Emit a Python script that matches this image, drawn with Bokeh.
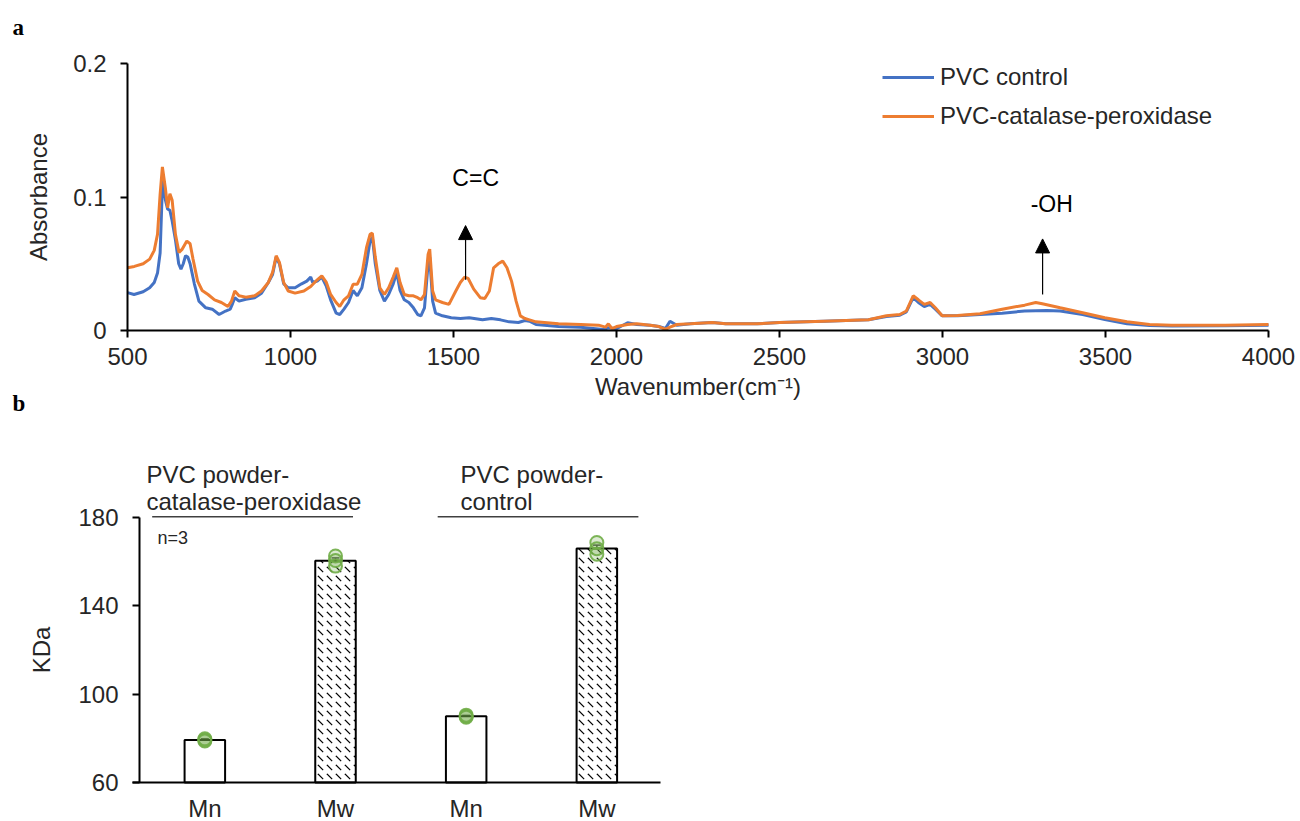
from bokeh.plotting import figure
from bokeh.layouts import column
from bokeh.models import (FixedTicker, Label, Arrow, NormalHead, Whisker, TeeHead,
                          ColumnDataSource, Legend)
from bokeh.embed import file_html
from bokeh.resources import INLINE

# ---------------- data: panel a (FTIR spectra) ----------------
wn_control = [500, 520, 548, 568, 582, 592, 600, 608, 616, 623, 630, 637, 647, 657, 664, 671, 678, 685,
              692, 705, 719, 740, 760, 781, 801, 815, 822, 829, 842, 863, 890, 911, 932, 945, 956, 966,
              979, 993, 1014, 1034, 1050, 1062, 1068, 1082, 1096, 1110, 1123, 1140, 1151, 1164, 1178,
              1192, 1205, 1219, 1233, 1244, 1251, 1260, 1274, 1288, 1301, 1315, 1326, 1336, 1349, 1363,
              1377, 1390, 1400, 1411, 1422, 1427, 1436, 1445, 1466, 1493, 1521, 1548, 1589, 1616, 1644,
              1671, 1699, 1719, 1733, 1753, 1822, 1890, 1959, 1975, 2000, 2034, 2062, 2103, 2130, 2150,
              2164, 2185, 2226, 2294, 2335, 2431, 2500, 2636, 2773, 2828, 2869, 2889, 2910, 2926, 2944,
              2962, 2978, 2999, 3046, 3115, 3183, 3252, 3286, 3320, 3361, 3430, 3498, 3566, 3635, 3703,
              3867, 4000]
abs_control = [0.0284, 0.027, 0.029, 0.032, 0.036, 0.043, 0.058, 0.115, 0.098, 0.091, 0.090, 0.082,
               0.068, 0.050, 0.046, 0.050, 0.056, 0.055, 0.050, 0.035, 0.022, 0.017, 0.016, 0.012,
               0.0146, 0.016, 0.020, 0.0246, 0.022, 0.0234, 0.0246, 0.028, 0.036, 0.042, 0.055, 0.050,
               0.035, 0.032, 0.032, 0.035, 0.037, 0.040, 0.036, 0.037, 0.040, 0.033, 0.023, 0.013,
               0.012, 0.016, 0.021, 0.030, 0.026, 0.032, 0.050, 0.067, 0.070, 0.050, 0.030, 0.022,
               0.027, 0.035, 0.0435, 0.030, 0.023, 0.021, 0.017, 0.012, 0.011, 0.017, 0.050, 0.055,
               0.022, 0.013, 0.011, 0.0095, 0.009, 0.0095, 0.008, 0.009, 0.008, 0.0065, 0.006, 0.0075,
               0.007, 0.0045, 0.003, 0.0025, 0.0008, 0.002, 0.0013, 0.0058, 0.0045, 0.004, 0.003,
               0.0015, 0.007, 0.004, 0.005, 0.006, 0.005, 0.005, 0.006, 0.007, 0.008, 0.0105, 0.0115,
               0.014, 0.0246, 0.021, 0.018, 0.0196, 0.016, 0.011, 0.011, 0.012, 0.013, 0.0146, 0.0148,
               0.015, 0.0146, 0.012, 0.0083, 0.005, 0.0038, 0.0033, 0.0035, 0.004]

wn_treated = [500, 521, 548, 568, 582, 592, 600, 607, 616, 623, 630, 637, 647, 658, 668, 682, 692, 701,
              715, 729, 747, 767, 788, 808, 819, 829, 842, 863, 890, 911, 932, 945, 956, 966, 979, 993,
              1014, 1041, 1062, 1082, 1096, 1110, 1123, 1140, 1151, 1164, 1178, 1192, 1205, 1219, 1233,
              1244, 1251, 1260, 1274, 1288, 1301, 1315, 1326, 1336, 1349, 1363, 1377, 1390, 1400, 1411,
              1422, 1427, 1436, 1445, 1466, 1486, 1507, 1521, 1534, 1545, 1562, 1582, 1596, 1610, 1623,
              1637, 1651, 1664, 1678, 1692, 1705, 1719, 1733, 1753, 1822, 1890, 1945, 1966, 1975, 1986,
              2000, 2034, 2062, 2103, 2130, 2150, 2164, 2185, 2226, 2294, 2335, 2431, 2500, 2636, 2773,
              2828, 2869, 2889, 2910, 2926, 2944, 2962, 2978, 2999, 3046, 3115, 3183, 3252, 3286, 3306,
              3361, 3430, 3498, 3566, 3635, 3703, 3867, 4000]
abs_treated = [0.047, 0.048, 0.050, 0.0535, 0.060, 0.072, 0.102, 0.1226, 0.107, 0.092, 0.1025, 0.0975,
               0.072, 0.0585, 0.061, 0.067, 0.065, 0.0535, 0.037, 0.030, 0.027, 0.023, 0.021, 0.018,
               0.022, 0.0296, 0.026, 0.025, 0.026, 0.0296, 0.036, 0.0435, 0.056, 0.051, 0.036, 0.0296,
               0.028, 0.0296, 0.033, 0.038, 0.041, 0.036, 0.027, 0.021, 0.018, 0.023, 0.026, 0.0347,
               0.0347, 0.042, 0.062, 0.072, 0.073, 0.055, 0.032, 0.027, 0.032, 0.040, 0.047, 0.036,
               0.027, 0.026, 0.026, 0.0246, 0.023, 0.027, 0.057, 0.061, 0.0296, 0.023, 0.021, 0.0196,
               0.0296, 0.036, 0.040, 0.039, 0.031, 0.0246, 0.024, 0.0296, 0.047, 0.050, 0.052, 0.047,
               0.037, 0.022, 0.011, 0.009, 0.008, 0.0065, 0.005, 0.0045, 0.004, 0.0025, 0.005, 0.0015,
               0.003, 0.0045, 0.005, 0.004, 0.003, 0.0008, 0.0025, 0.0045, 0.005, 0.006, 0.005, 0.005,
               0.006, 0.007, 0.008, 0.011, 0.012, 0.0146, 0.026, 0.023, 0.0196, 0.021, 0.017, 0.011,
               0.0113, 0.0126, 0.016, 0.019, 0.021, 0.020, 0.017, 0.0133, 0.0095, 0.0065, 0.0045,
               0.004, 0.004, 0.0045]

series_names = ["PVC control", "PVC-catalase-peroxidase"]
x_ticks_a = [500, 1000, 1500, 2000, 2500, 3000, 3500, 4000]
y_ticks_a = [0, 0.1, 0.2]
y_tick_labels_a = ["0", "0.1", "0.2"]
band_labels = ["C=C", "-OH"]
band_wn = [1537, 3307]

# ---------------- data: panel b (molecular weight) ----------------
bar_labels = ["Mn", "Mw", "Mn", "Mw"]
bar_pos = [1, 2, 3, 4]
bar_means = [79.3, 160.4, 90.0, 166.0]
bar_err = [0.5, 1.3, 0.4, 1.5]
point_pos = [1, 1, 1, 2, 2, 2, 3, 3, 3, 4, 4, 4]
point_vals = [78.8, 79.3, 79.8, 158.0, 160.5, 162.6, 89.6, 90.0, 90.5, 163.4, 165.9, 168.7]
group_lines = [["PVC powder-", "catalase-peroxidase"], ["PVC powder-", "control"]]
y_ticks_b = [60, 100, 140, 180]

FONT = "Liberation Sans"
FS = "24px"
TXT = "#262626"
BLUE = "#4472C4"
ORANGE = "#ED7D31"
GREEN = "#70AD47"


def style_axes(p):
    for ax in [p.xaxis[0], p.yaxis[0]]:
        ax.axis_line_color = "black"
        ax.axis_line_width = 2
        ax.major_tick_line_color = "black"
        ax.major_tick_line_width = 2
        ax.major_tick_in = 0
        ax.major_tick_out = 7
        ax.minor_tick_line_color = None
        ax.major_label_text_font = FONT
        ax.major_label_text_font_size = FS
        ax.major_label_text_color = TXT
        ax.axis_label_text_font = FONT
        ax.axis_label_text_font_size = FS
        ax.axis_label_text_font_style = "normal"
        ax.axis_label_text_color = TXT
    p.xgrid.visible = False
    p.ygrid.visible = False
    p.outline_line_color = None
    p.background_fill_color = "white"
    p.border_fill_color = "white"


def text_label(p, x, y, text, size=FS, font=FONT, style="normal", color=TXT, align="left"):
    p.add_layout(Label(x=x, y=y, text=text, text_align=align, text_baseline="middle",
                       text_font=font, text_font_style=style, text_font_size=size,
                       text_color=color))


# ---------------- panel a ----------------
# the frame covers the whole canvas; axes are pinned with fixed_location
p1 = figure(width=1300, height=420, x_range=(110.4, 4098.1), y_range=(-0.0674, 0.2472),
            output_backend="svg", toolbar_location=None,
            min_border_left=0, min_border_right=0, min_border_top=0, min_border_bottom=0)
style_axes(p1)
p1.xaxis.fixed_location = 0
p1.xaxis.bounds = (500, 4000)
p1.yaxis.fixed_location = 500
p1.yaxis.bounds = (0, 0.2)
p1.xaxis.ticker = FixedTicker(ticks=x_ticks_a)
p1.yaxis.ticker = FixedTicker(ticks=y_ticks_a)
p1.yaxis.major_label_overrides = {t: l for t, l in zip(y_ticks_a, y_tick_labels_a)}
p1.xaxis.axis_label = "Wavenumber(cm\u207b\u00b9)"
p1.yaxis.axis_label = "Absorbance"
p1.xaxis.major_label_standoff = 10
p1.xaxis.axis_label_standoff = 5
p1.yaxis.major_label_standoff = 14
p1.yaxis.axis_label_standoff = 18

r_c = p1.line(wn_control, abs_control, line_color=BLUE, line_width=3)
r_t = p1.line(wn_treated, abs_treated, line_color=ORANGE, line_width=3)

legend = Legend(items=[(series_names[0], [r_c]), (series_names[1], [r_t])],
                location=(882, 290), glyph_width=52, glyph_height=26, label_height=26,
                spacing=11, padding=0, margin=0, label_standoff=6,
                label_text_font=FONT, label_text_font_size=FS, label_text_color=TXT,
                border_line_color=None, background_fill_alpha=0)
p1.add_layout(legend)

arrow_bottoms = [0.038, 0.027]
arrow_tops = [0.0786, 0.0686]
label_y = [0.114, 0.095]
label_x = [1568, 3335]
for i in range(2):
    p1.add_layout(Arrow(end=NormalHead(size=14, fill_color="black", line_color="black"),
                        x_start=band_wn[i], y_start=arrow_bottoms[i],
                        x_end=band_wn[i], y_end=arrow_tops[i],
                        line_color="black", line_width=1.2))
    text_label(p1, label_x[i], label_y[i], band_labels[i], size="23px", color="black",
               align="center")

# panel letters
text_label(p1, 147, 0.227, "a", size="23px", font="Liberation Serif", style="bold", color="black")
text_label(p1, 147, -0.0547, "b", size="23px", font="Liberation Serif", style="bold", color="black")

# ---------------- panel b ----------------
p2 = figure(width=700, height=401, x_range=(-0.5638, 4.7933), y_range=(42.34, 223.93),
            output_backend="svg", toolbar_location=None,
            min_border_left=0, min_border_right=0, min_border_top=0, min_border_bottom=0)
style_axes(p2)
p2.yaxis.fixed_location = 0.5
p2.yaxis.bounds = (60, 180)
p2.xaxis.fixed_location = 60
p2.xaxis.bounds = (0.45, 4.49)
p2.xaxis.ticker = FixedTicker(ticks=bar_pos)
p2.xaxis.major_label_overrides = {pos: lab for pos, lab in zip(bar_pos, bar_labels)}
p2.xaxis.major_tick_out = 0
p2.xaxis.major_label_standoff = 12
p2.yaxis.ticker = FixedTicker(ticks=y_ticks_b)
p2.yaxis.axis_label = "KDa"
p2.yaxis.major_label_standoff = 14
p2.yaxis.axis_label_standoff = 20

mn_idx = [i for i, l in enumerate(bar_labels) if l == "Mn"]
mw_idx = [i for i, l in enumerate(bar_labels) if l == "Mw"]
p2.vbar(x=[bar_pos[i] for i in mn_idx], top=[bar_means[i] for i in mn_idx], bottom=60,
        width=0.31, fill_color="white", line_color="black", line_width=2)
p2.vbar(x=[bar_pos[i] for i in mw_idx], top=[bar_means[i] for i in mw_idx], bottom=60,
        width=0.31, fill_color="white", line_color="black", line_width=2,
        hatch_pattern="`", hatch_color="black", hatch_scale=9, hatch_weight=1.2)

p2.scatter(x=point_pos, y=point_vals, marker="circle", size=13, fill_color=GREEN, fill_alpha=0.25,
           line_color=GREEN, line_width=2, line_alpha=0.9)

err_src = ColumnDataSource(data=dict(
    x=bar_pos,
    upper=[m + e for m, e in zip(bar_means, bar_err)],
    lower=[m - e for m, e in zip(bar_means, bar_err)]))
p2.add_layout(Whisker(source=err_src, base="x", upper="upper", lower="lower",
                      line_color="#404040", line_width=1.5,
                      upper_head=TeeHead(size=8, line_color="#404040", line_width=1.5),
                      lower_head=TeeHead(size=8, line_color="#404040", line_width=1.5)))

# group labels + underline
line_x0 = [0.597, 2.782]
line_x1 = [2.134, 4.318]
p2.segment(x0=line_x0, y0=[180.4, 180.4], x1=line_x1, y1=[180.4, 180.4],
           line_color="#404040", line_width=1.5)
group_x = [0.553, 2.957]
line_y = [199.5, 187.3]
for g in range(2):
    for k, txt in enumerate(group_lines[g]):
        text_label(p2, group_x[g], line_y[k], txt)
text_label(p2, 0.638, 170.6, "n=3", size="18px")

layout = column(p1, p2, spacing=0)
open("out.html", "w").write(file_html(layout, INLINE))
